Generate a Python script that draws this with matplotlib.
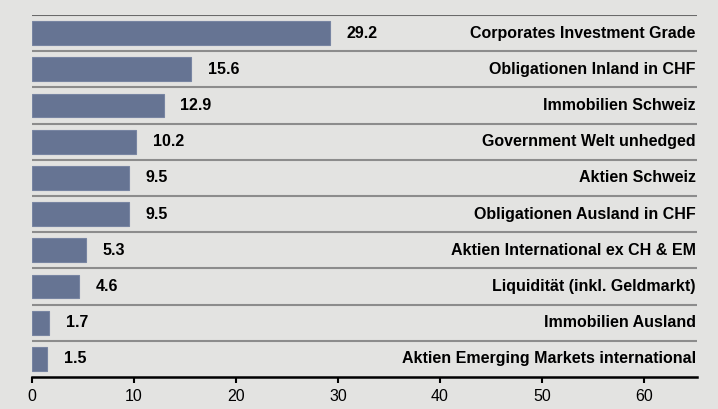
import matplotlib
matplotlib.use("Agg")
import matplotlib.pyplot as plt

# asset classes and weights in percent
categories = ['Corporates Investment Grade', 'Obligationen Inland in CHF', 'Immobilien Schweiz',
              'Government Welt unhedged', 'Aktien Schweiz', 'Obligationen Ausland in CHF',
              'Aktien International ex CH & EM', 'Liquidität (inkl. Geldmarkt)',
              'Immobilien Ausland', 'Aktien Emerging Markets international']
weights = [29.2, 15.6, 12.9, 10.2, 9.5, 9.5, 5.3, 4.6, 1.7, 1.5]
xticks = [0, 10, 20, 30, 40, 50, 60]

bg = '#e3e3e1'
bar_color = '#667493'

plt.rcParams['font.family'] = ['Liberation Sans', 'DejaVu Sans']

fig = plt.figure(figsize=(7.18, 4.09), dpi=100, facecolor=bg)
ax = fig.add_axes([32/718, 32/409, 665/718, 362/409])
ax.set_facecolor(bg)

n = len(categories)
ypos = list(range(n - 1, -1, -1))
ax.barh(ypos, weights, height=0.66, color=bar_color, edgecolor='#7885a2', linewidth=0.8, zorder=3)

for y, v in zip(ypos, weights):
    ax.annotate(f'{v:.1f}', (v, y), xytext=(12, 0), textcoords='offset points',
                ha='left', va='center', fontsize=11.5, fontweight='bold', color='black')

for y, name in zip(ypos, categories):
    ax.text(0.998, y, name, transform=ax.get_yaxis_transform(), ha='right', va='center',
            fontsize=11.5, fontweight='bold', color='black')

# row separators, the top one a bit darker
for k in range(n):
    c = '#6a6a6a' if k == 0 else '#8c8c8c'
    ax.axhline(n - 0.5 - k, color=c, linewidth=1.5, zorder=2)

ax.set_xlim(0, 65.2)
ax.set_ylim(-0.5, n - 0.5)
ax.set_xticks(xticks)
ax.set_yticks([])
for s in ['top', 'left', 'right']:
    ax.spines[s].set_visible(False)
ax.spines['bottom'].set_linewidth(1.8)
ax.spines['bottom'].set_color('black')
ax.tick_params(axis='x', direction='out', length=4.5, width=1.5, labelsize=11.5, pad=4, colors='black')

fig.savefig('out.png', dpi=100, facecolor=bg)
